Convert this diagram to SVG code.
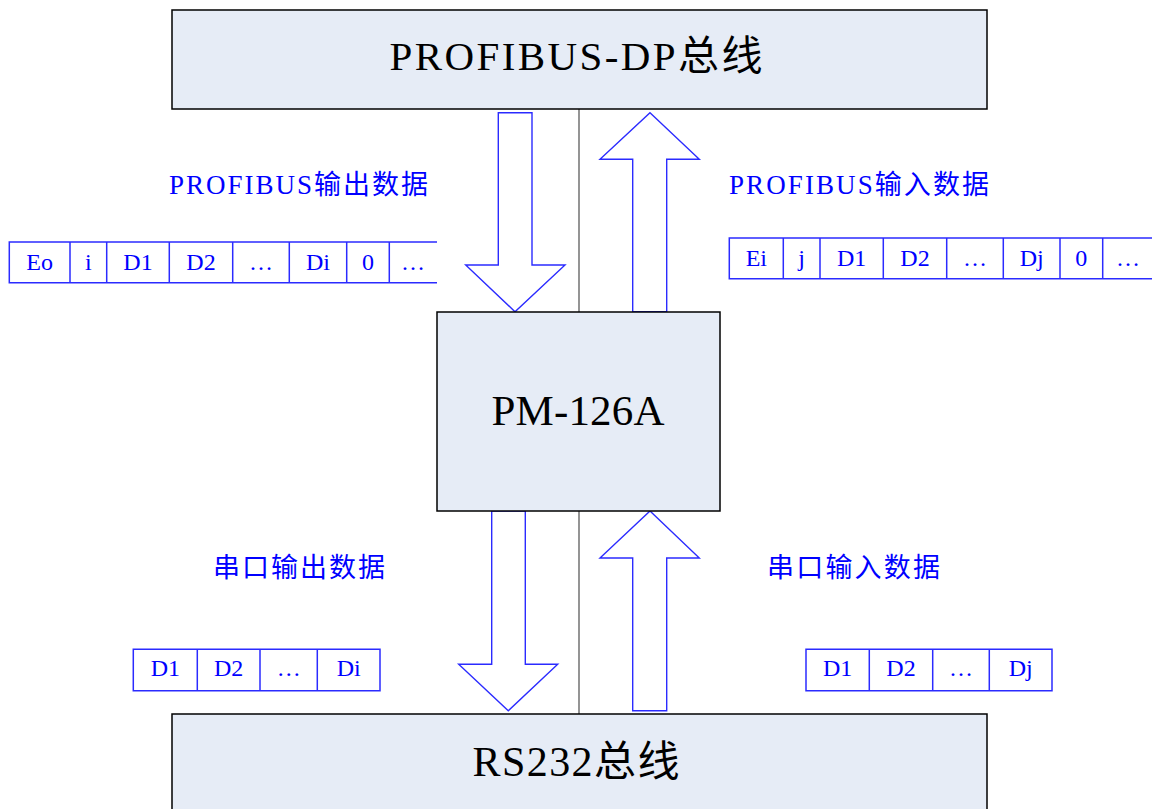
<svg xmlns="http://www.w3.org/2000/svg" width="1152" height="809" viewBox="0 0 1152 809">
<style>
.box{fill:#e6ecf6;stroke:#000;stroke-width:1.5}
.big{font-family:"Liberation Serif","Noto Sans CJK SC",serif;fill:#000;text-anchor:middle}
.arrow{fill:#fff;stroke:#2b2bff;stroke-width:1.4;stroke-linejoin:miter}
.tbl{fill:none;stroke:#2b2bff;stroke-width:1.5}
.cell{font-family:"Liberation Serif","Noto Sans CJK SC",serif;font-size:24px;fill:#0000ff;text-anchor:middle}
.lbl{font-family:"Liberation Serif","Noto Sans CJK SC",serif;font-size:27px;fill:#0000ff}
</style>
<rect width="1152" height="809" fill="#fff"/>
<g id="connectors">
<line x1="579" y1="109" x2="579" y2="714" stroke="#7a7a7a" stroke-width="1.6"/>
<polygon class="arrow" points="498.3,112.7 532,112.7 532,265 565,265 515,311.7 465.7,265 498.3,265"/>
<polygon class="arrow" points="650,112.7 699.3,159.3 666.7,159.3 666.7,311.7 632.7,311.7 632.7,159.3 600,159.3"/>
<polygon class="arrow" points="491.7,511 525.3,511 525.3,664.3 557.7,664.3 508.3,710.7 458.7,664.3 491.7,664.3"/>
<polygon class="arrow" points="650,511 699.3,558 666.7,558 666.7,710.7 632.7,710.7 632.7,558 600,558"/>
</g>
<g id="profibus">
<rect class="box" x="172" y="10" width="815" height="99"/>
<text class="big" x="576" y="70" font-size="41" textLength="373" lengthAdjust="spacing">PROFIBUS-DP总线</text>
</g>
<g id="pm126a">
<rect class="box" x="437" y="312" width="283" height="199"/>
<text class="big" x="578" y="425" font-size="43" textLength="173" lengthAdjust="spacing">PM-126A</text>
</g>
<g id="rs232">
<rect class="box" x="172" y="714" width="815" height="110"/>
<text class="big" x="576" y="776" font-size="42" textLength="207" lengthAdjust="spacing">RS232总线</text>
</g>
<g id="label-profibus-out">
<text class="lbl" x="169" y="194" textLength="259" lengthAdjust="spacing">PROFIBUS输出数据</text>
</g>
<g id="label-profibus-in">
<text class="lbl" x="729" y="194" textLength="260" lengthAdjust="spacing">PROFIBUS输入数据</text>
</g>
<g id="label-serial-out">
<text class="lbl" x="213" y="577" textLength="172" lengthAdjust="spacing">串口输出数据</text>
</g>
<g id="label-serial-in">
<text class="lbl" x="767" y="577" textLength="173" lengthAdjust="spacing">串口输入数据</text>
</g>
<g id="table-profibus-out">
<path class="tbl" d="M437,242H9.3V282.7H437M70,242V282.7M106.7,242V282.7M169.3,242V282.7M232.7,242V282.7M289.3,242V282.7M346.7,242V282.7M389.3,242V282.7"/>
<text class="cell" x="39.7" y="269.5">Eo</text>
<text class="cell" x="88.3" y="269.5">i</text>
<text class="cell" x="138" y="269.5">D1</text>
<text class="cell" x="201" y="269.5">D2</text>
<text class="cell" x="261" y="269.5">…</text>
<text class="cell" x="318" y="269.5">Di</text>
<text class="cell" x="368" y="269.5">0</text>
<text class="cell" x="413" y="269.5">…</text>
</g>
<g id="table-profibus-in">
<path class="tbl" d="M1152,238H729.3V278.7H1152M783.3,238V278.7M820,238V278.7M883.3,238V278.7M946.7,238V278.7M1003.3,238V278.7M1060,238V278.7M1102.7,238V278.7"/>
<text class="cell" x="756.3" y="265.5">Ei</text>
<text class="cell" x="801.7" y="265.5">j</text>
<text class="cell" x="851.7" y="265.5">D1</text>
<text class="cell" x="915" y="265.5">D2</text>
<text class="cell" x="975" y="265.5">…</text>
<text class="cell" x="1031.7" y="265.5">Dj</text>
<text class="cell" x="1081.3" y="265.5">0</text>
<text class="cell" x="1128" y="265.5">…</text>
</g>
<g id="table-serial-out">
<path class="tbl" d="M133.3,649.3H380V690.7H133.3ZM197.3,649.3V690.7M260,649.3V690.7M317.3,649.3V690.7"/>
<text class="cell" x="165.3" y="676">D1</text>
<text class="cell" x="228.7" y="676">D2</text>
<text class="cell" x="288.7" y="676">…</text>
<text class="cell" x="348.7" y="676">Di</text>
</g>
<g id="table-serial-in">
<path class="tbl" d="M806,649.3H1052V690.7H806ZM869.3,649.3V690.7M932.7,649.3V690.7M989.3,649.3V690.7"/>
<text class="cell" x="837.7" y="676">D1</text>
<text class="cell" x="901" y="676">D2</text>
<text class="cell" x="961" y="676">…</text>
<text class="cell" x="1020.7" y="676">Dj</text>
</g>
</svg>
